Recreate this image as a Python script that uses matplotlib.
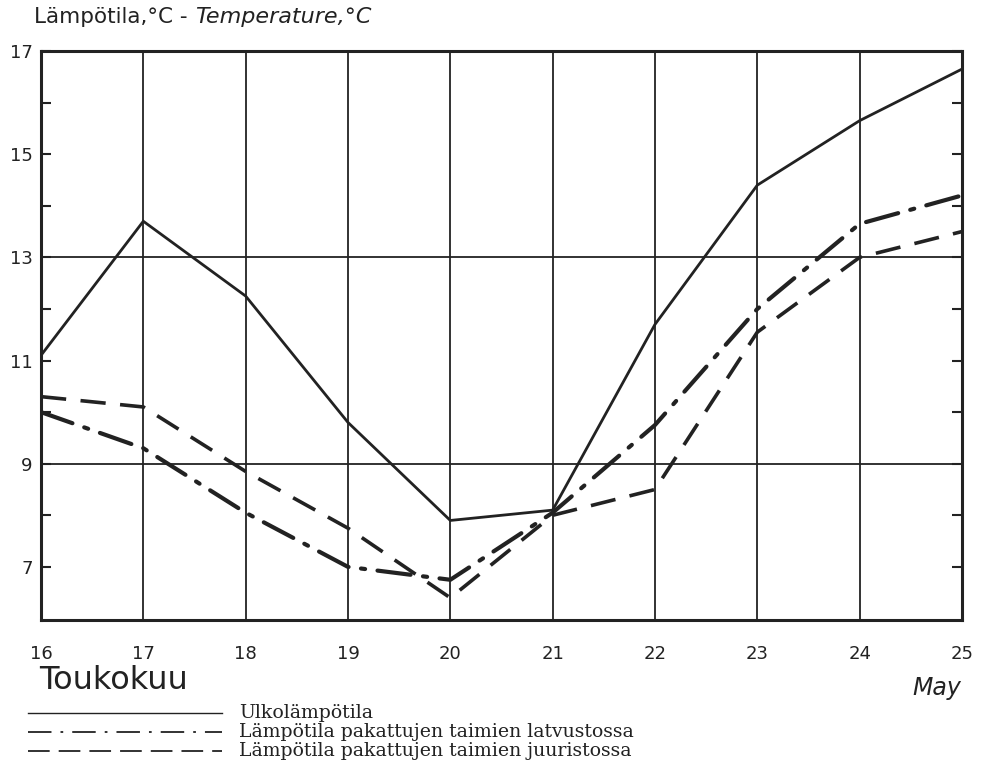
import numpy as np
import matplotlib
matplotlib.use("Agg")
import matplotlib.pyplot as plt
from matplotlib.lines import Line2D

# Days of May (Toukokuu)
days = [16, 17, 18, 19, 20, 21, 22, 23, 24, 25]

# Temperatures, degrees C
outdoor = [11.1, 13.7, 12.25, 9.8, 7.9, 8.1, 11.7, 14.4, 15.65, 16.65]
crown = [10.0, 9.3, 8.05, 7.0, 6.75, 8.05, 9.75, 12.0, 13.65, 14.2]
roots = [10.3, 10.1, 8.85, 7.75, 6.4, 8.0, 8.5, 11.55, 13.0, 13.5]

y_labels = [7, 9, 11, 13, 15, 17]
y_minor = [8, 10, 12, 14, 16]
h_lines = [9, 13]

legend_labels = [
    "Ulkolämpötila",
    "Lämpötila pakattujen taimien latvustossa",
    "Lämpötila pakattujen taimien juuristossa",
]

ink = "#222222"
hand = "DejaVu Sans"

fig = plt.figure(figsize=(9.83, 7.79), dpi=100)
ax = fig.add_axes([0.0417, 0.2041, 0.9369, 0.7304])

ax.plot(days, outdoor, color=ink, lw=2.0, solid_joinstyle="miter")
ax.plot(days, crown, color=ink, lw=3.0, linestyle=(0, (8, 3, 1, 3)),
        dash_capstyle="round")
ax.plot(days, roots, color=ink, lw=2.6, linestyle=(0, (7, 4)))

ax.set_xlim(days[0], days[-1])
ax.set_ylim(5.97, 17)

# grid: every day vertically, only 9 and 13 horizontally
for d in days[1:-1]:
    ax.axvline(d, color=ink, lw=1.3, zorder=0)
for h in h_lines:
    ax.axhline(h, color=ink, lw=1.3, zorder=0)

for s in ax.spines.values():
    s.set_linewidth(2.2)
    s.set_color(ink)

ax.set_xticks(days)
ax.set_xticklabels([str(d) for d in days], fontsize=13, family=hand, color=ink)
ax.tick_params(axis="x", length=0, pad=18)

ax.set_yticks(y_labels)
ax.set_yticks(y_minor, minor=True)
ax.set_yticklabels([str(v) for v in y_labels], fontsize=13, family=hand, color=ink)
ax.tick_params(axis="y", which="both", direction="in", length=7, width=1.5,
               left=True, right=True, pad=6, color=ink)

# title and axis words
fig.text(0.035, 0.978, "Lämpötila,°C -", fontsize=15.5, family=hand, color=ink,
         va="center", ha="left")
fig.text(0.198, 0.978, "Temperature,°C", fontsize=16, family=hand, color=ink,
         style="italic", va="center", ha="left")
fig.text(0.04, 0.127, "Toukokuu", fontsize=23, family=hand, color=ink,
         va="center", ha="left")
fig.text(0.978, 0.117, "May", fontsize=17, family=hand, color=ink,
         style="italic", va="center", ha="right")

# legend beneath the chart
leg_y = [1 - 713 / 779, 1 - 732 / 779, 1 - 751 / 779]
styles = [
    dict(linestyle="-", lw=1.0),
    dict(linestyle=(0, (13, 5, 1.5, 5)), lw=1.3),
    dict(linestyle=(0, (12, 5)), lw=1.3),
]
for y, st, lab in zip(leg_y, styles, legend_labels):
    fig.add_artist(Line2D([0.028, 0.226], [y, y], color=ink,
                          transform=fig.transFigure, **st))
    fig.text(0.243, y, lab, fontsize=13.6, family="DejaVu Serif", color=ink,
             va="center", ha="left")

fig.savefig("out.png", dpi=100)
